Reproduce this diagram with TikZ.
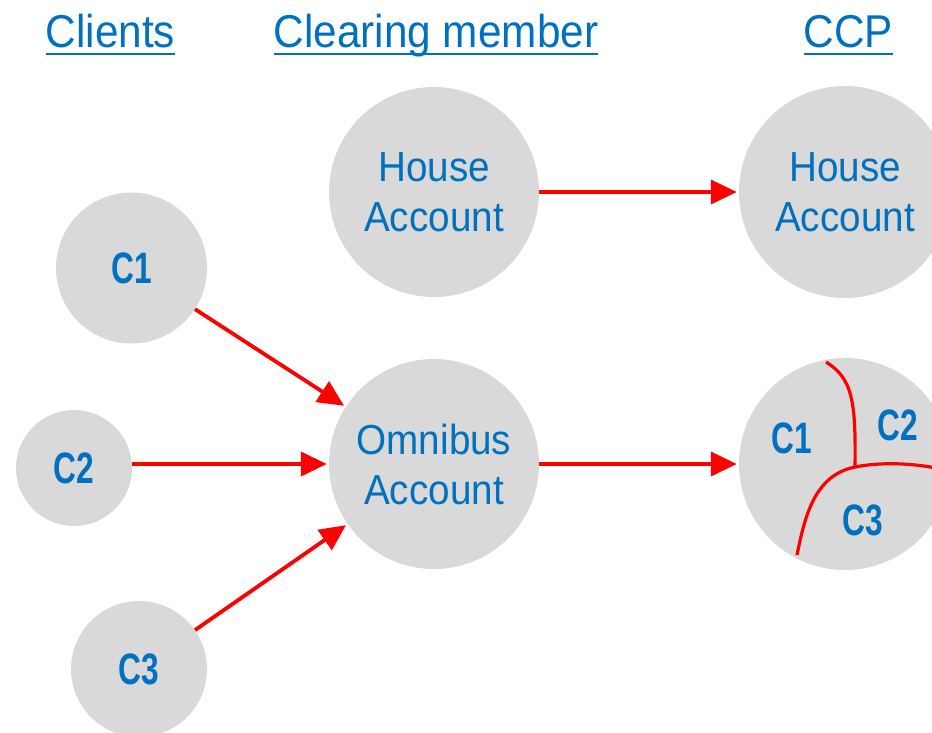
\documentclass[tikz,border=0pt]{standalone}
\usepackage{fontspec}
\setmainfont{Liberation Sans}[FakeStretch=0.92]
\newfontfamily\narrowbold{Liberation Sans}[FakeStretch=0.72]
\usepackage{tikz}
\usetikzlibrary{calc,positioning,arrows.meta}
\definecolor{acctblue}{HTML}{0070C0}
\definecolor{acctgray}{HTML}{D9D9D9}
\tikzstyle{account} = [circle, fill=acctgray, inner sep=0pt, text=acctblue, align=center,
                       font=\fontsize{42}{50}\selectfont]
\tikzstyle{client}  = [circle, fill=acctgray, inner sep=0pt, text=acctblue,
                       font=\narrowbold\bfseries\fontsize{44}{50}\selectfont]
\tikzstyle{title}   = [anchor=base, inner xsep=0pt, text=acctblue, font=\fontsize{46}{52}\selectfont]
\tikzstyle{flow}    = [red, line width=3.8pt, -{Triangle[length=26pt,width=24pt]}, shorten >=2pt]

\begin{document}
\begin{tikzpicture}[x=1pt, y=-1pt,
		split/.style={red, line width=3.2pt},
		share/.style={text=acctblue, font=\narrowbold\bfseries\fontsize{44}{50}\selectfont}]

	\clip (0,0) rectangle (932,732);

	% column titles
	\node[title] (clients) at (110.5,47) {Clients};
	\node[title] (member) at (436,47) {Clearing member};
	\node[title] (ccp) at (848.5,47) {CCP};
	\foreach \t in {clients,member,ccp}
		\draw[acctblue, line width=2pt] ([yshift=-6.5pt]\t.base west) -- ([yshift=-6.5pt]\t.base east);

	% accounts
	\node[account, minimum size=210pt] (house) at (434,192) {House\\Account};
	\node[account, minimum size=210pt] (omnibus) at (434,464) {Omnibus\\Account};
	\node[account, minimum size=212pt] (ccphouse) at (845,192) {House\\Account};
	\node[circle, fill=acctgray, minimum size=212pt] (ccpomni) at (845,464) {};

	% clients
	\node[client, minimum size=151pt] (c1) at (131.5,268) {C1};
	\node[client, minimum size=116pt] (c2) at (74,468) {C2};
	\node[client, minimum size=136pt] (c3) at (139,669) {C3};

	% segregation inside the CCP omnibus account
	\coordinate (joint) at (855,467);
	\draw[split] (826,362) .. controls (852,378) and (856,400) .. (joint);
	\draw[split] (joint) .. controls (880,462) and (910,463) .. (936,468);
	\draw[split] (joint) .. controls (815,475) and (805,515) .. (797,555);
	\node[share] (s1) at (792,438) {C1};
	\node[share] (s2) at (898,425) {C2};
	\node[share] (s3) at (863,520) {C3};

	% flows
	\draw[flow] (c1) -- (omnibus);
	\draw[flow] (c2.east |- omnibus.west) -- (omnibus.west);
	\draw[flow] (c3) -- (omnibus);
	\draw[flow] (house) -- (ccphouse);
	\draw[flow] (omnibus) -- (ccpomni);
\end{tikzpicture}
\end{document}
